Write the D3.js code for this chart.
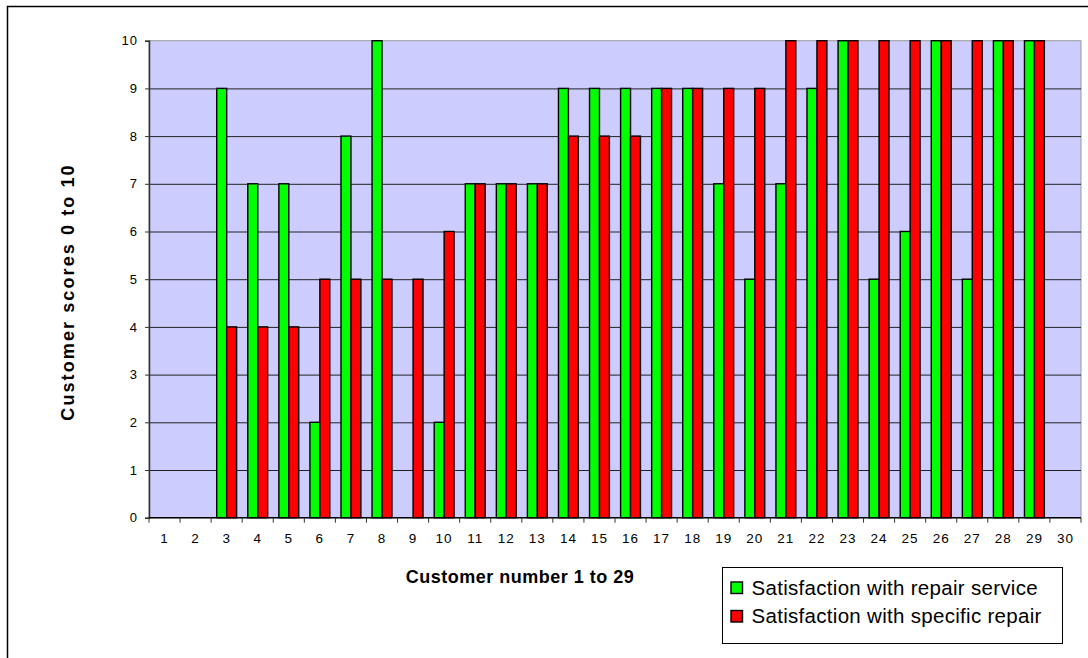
<!DOCTYPE html>
<html>
<head>
<meta charset="utf-8">
<script src="https://cdn.jsdelivr.net/npm/d3@7"></script>
<style>
  body { margin: 0; background: #fff; }
  svg { display: block; font-family: "Liberation Sans", Arial, sans-serif; }
</style>
</head>
<body>
<div id="chart"></div>
<script>
// customer numbers on the x axis
const customers = ['1','2','3','4','5','6','7','8','9','10','11','12','13','14','15',
  '16','17','18','19','20','21','22','23','24','25','26','27','28','29','30'];

// scores (null = no customer)
const repairService = [0,0,9,7,7,2,8,10,0,2,7,7,7,9,9,9,9,9,7,5,7,9,10,5,6,10,5,10,10,null];
const specificRepair = [0,0,4,4,4,5,5,5,5,6,7,7,7,8,8,8,9,9,9,9,10,10,10,10,10,10,10,10,10,null];

const seriesNames = ['Satisfaction with repair service', 'Satisfaction with specific repair'];
const seriesColors = ['#00ff00', '#ff0000'];
const yTicks = [0,1,2,3,4,5,6,7,8,9,10];

const width = 1088;
const height = 658;
const plot = { left: 149, right: 1081, top: 40.7, bottom: 517.7 };

const svg = d3.select('#chart')
  .append('svg')
  .attr('width', width)
  .attr('height', height);

// outer chart frame (runs off the right/bottom edge like the original)
svg.append('rect')
  .attr('x', 7.5).attr('y', 6.5)
  .attr('width', width + 20).attr('height', height + 20)
  .attr('fill', 'none')
  .attr('stroke', '#000')
  .attr('stroke-width', 1.5);

const xScale = d3.scaleBand()
  .domain(customers)
  .range([plot.left, plot.right])
  .padding(0);

const yScale = d3.scaleLinear()
  .domain([0, 10])
  .range([plot.bottom, plot.top]);

const groupPad = 5.6;
const xInner = d3.scaleBand()
  .domain([0, 1])
  .range([groupPad, xScale.bandwidth() - groupPad])
  .padding(0);

// plot background
svg.append('rect')
  .attr('x', plot.left).attr('y', plot.top)
  .attr('width', plot.right - plot.left)
  .attr('height', plot.bottom - plot.top)
  .attr('fill', '#ccccff')
  .attr('stroke', '#999')
  .attr('stroke-width', 1);

// gridlines
svg.append('g')
  .attr('class', 'gridlines')
  .attr('transform', `translate(${plot.left}, 0)`)
  .call(d3.axisLeft(yScale).tickValues(yTicks.slice(1, -1)).tickFormat('').tickSize(-(plot.right - plot.left)))
  .call((g) => g.select('.domain').remove())
  .call((g) => g.selectAll('line').attr('stroke', '#222').attr('stroke-width', 1));

// bars
const rows = customers.map((c, i) => ({ customer: c, values: [repairService[i], specificRepair[i]] }));

const groups = svg.append('g')
  .attr('class', 'bars')
  .selectAll('g')
  .data(rows)
  .join('g')
  .attr('transform', (d) => `translate(${xScale(d.customer)}, 0)`);

groups.selectAll('rect')
  .data((d) => d.values.map((v, k) => ({ k, v })).filter((e) => e.v > 0))
  .join('rect')
  .attr('x', (e) => xInner(e.k))
  .attr('y', (e) => yScale(e.v))
  .attr('width', xInner.bandwidth())
  .attr('height', (e) => yScale(0) - yScale(e.v))
  .attr('fill', (e) => seriesColors[e.k])
  .attr('stroke', '#000')
  .attr('stroke-width', 1.4);

// y axis
const yAxis = svg.append('g')
  .attr('transform', `translate(${plot.left}, 0)`)
  .call(d3.axisLeft(yScale).tickValues(yTicks).tickSize(4).tickPadding(7));
yAxis.select('.domain').attr('stroke', '#333').attr('stroke-width', 1.5);
yAxis.selectAll('line').attr('stroke', '#333');
yAxis.selectAll('text')
  .attr('font-size', 13)
  .attr('letter-spacing', 1)
  .attr('fill', '#000')
  .attr('font-family', '"Liberation Sans", Arial, sans-serif');

// x axis: ticks on category boundaries, labels centered in bands
const xAxisG = svg.append('g')
  .attr('transform', `translate(0, ${plot.bottom})`);
xAxisG.append('line')
  .attr('x1', plot.left).attr('x2', plot.right)
  .attr('stroke', '#000').attr('stroke-width', 1.5);
xAxisG.selectAll('.tick-mark')
  .data(customers)
  .join('line')
  .attr('class', 'tick-mark')
  .attr('x1', (d) => xScale(d)).attr('x2', (d) => xScale(d))
  .attr('y1', 0).attr('y2', 5)
  .attr('stroke', '#333');
xAxisG.append('line')
  .attr('x1', plot.right).attr('x2', plot.right)
  .attr('y1', 0).attr('y2', 5)
  .attr('stroke', '#333');
xAxisG.selectAll('.tick-label')
  .data(customers)
  .join('text')
  .attr('class', 'tick-label')
  .attr('x', (d) => xScale(d) + xScale.bandwidth() / 2)
  .attr('y', 25.5)
  .attr('text-anchor', 'middle')
  .attr('font-size', 13.5)
  .attr('letter-spacing', 1)
  .text((d) => d);

// axis titles
svg.append('text')
  .attr('x', 520)
  .attr('y', 583)
  .attr('text-anchor', 'middle')
  .attr('font-size', 18)
  .attr('font-weight', 'bold')
  .attr('letter-spacing', 0.5)
  .text('Customer number 1 to 29');

svg.append('text')
  .attr('transform', 'translate(73.5, 292) rotate(-90)')
  .attr('text-anchor', 'middle')
  .attr('font-size', 18)
  .attr('font-weight', 'bold')
  .attr('letter-spacing', 2.1)
  .text('Customer scores 0 to 10');

// legend
const legend = svg.append('g').attr('transform', 'translate(722.5, 567.5)');
legend.append('rect')
  .attr('width', 340).attr('height', 76)
  .attr('fill', '#fff')
  .attr('stroke', '#000');

const items = legend.selectAll('g.item')
  .data(seriesNames)
  .join('g')
  .attr('class', 'item')
  .attr('transform', (d, i) => `translate(8.5, ${14.5 + i * 28.5})`);
items.append('rect')
  .attr('width', 11.5).attr('height', 11.5)
  .attr('fill', (d, i) => seriesColors[i])
  .attr('stroke', '#000')
  .attr('stroke-width', 1.4);
items.append('text')
  .attr('x', 20.5)
  .attr('y', 12.7)
  .attr('font-size', 20.5)
  .attr('letter-spacing', 0.3)
  .text((d) => d);
</script>
</body>
</html>
